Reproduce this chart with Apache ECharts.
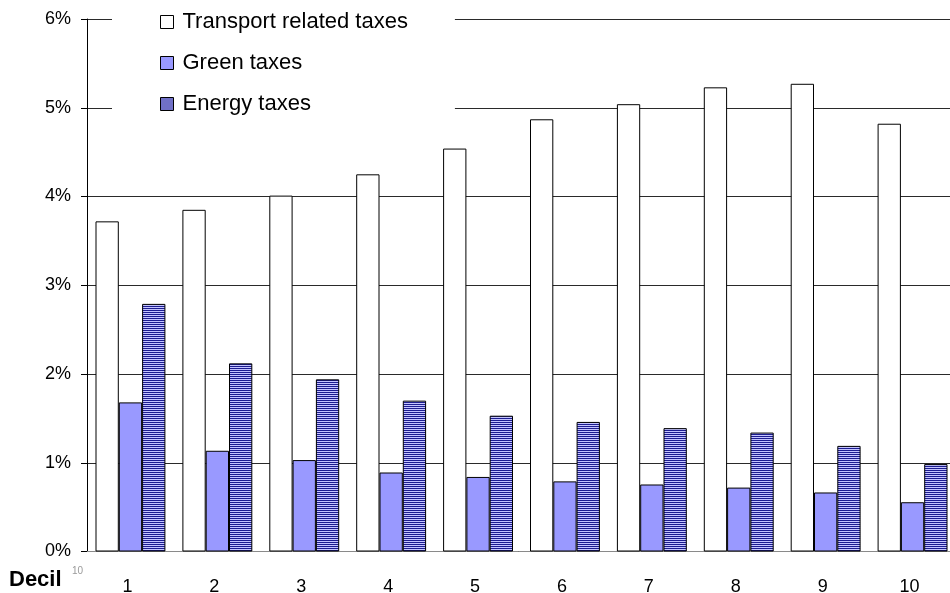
<!DOCTYPE html>
<html>
<head>
<meta charset="utf-8">
<script src="https://cdn.jsdelivr.net/npm/echarts@6/dist/echarts.min.js"></script>
<style>
  html, body { margin: 0; padding: 0; background: #fff; }
  #chart { width: 950px; height: 593px; }
</style>
</head>
<body>
<div id="chart"></div>
<script>
// Income deciles and tax shares (% of disposable income)
const deciles = ['1', '2', '3', '4', '5', '6', '7', '8', '9', '10'];
const transportTaxes = [3.72, 3.85, 4.01, 4.25, 4.54, 4.87, 5.04, 5.23, 5.27, 4.82];
const greenTaxes = [1.68, 1.135, 1.03, 0.89, 0.84, 0.79, 0.755, 0.72, 0.665, 0.555];
const energyTaxes = [2.79, 2.12, 1.94, 1.70, 1.53, 1.46, 1.39, 1.34, 1.19, 0.985];
const yTicks = [0, 1, 2, 3, 4, 5, 6];

// Horizontal hatch fill for the energy series
function stripePattern() {
  const c = document.createElement('canvas');
  c.width = 4; c.height = 2;
  const ctx = c.getContext('2d');
  ctx.fillStyle = '#c4c4ff';
  ctx.fillRect(0, 0, 4, 2);
  ctx.fillStyle = '#1c1c90';
  ctx.fillRect(0, 0, 4, 1);
  return c;
}

const chart = echarts.init(document.getElementById('chart'), null, { renderer: 'canvas' });
const font = '"Liberation Sans", Arial, sans-serif';
const barW = 23.3;

chart.setOption({
  animation: false,
  backgroundColor: '#ffffff',
  // plot runs a little past the right edge of the canvas
  grid: { left: 87, width: 869, top: 19, height: 532.5, containLabel: false, outerBoundsMode: 'none' },
  legend: {
    orient: 'vertical',
    left: 112,
    top: 2,
    padding: [9, 47, 9, 48],
    backgroundColor: '#ffffff',
    itemWidth: 13,
    itemHeight: 13,
    itemGap: 19,
    icon: 'rect',
    itemStyle: { borderColor: '#000', borderWidth: 1 },
    textStyle: { fontFamily: font, fontSize: 22, color: '#000', lineHeight: 22, padding: [0, 0, 0, 4] },
    data: ['Transport related taxes', 'Green taxes', 'Energy taxes']
  },
  xAxis: {
    type: 'category',
    data: deciles,
    axisLine: { show: true, lineStyle: { color: '#8a8a8a', width: 1 } },
    axisTick: { show: false },
    axisLabel: { fontFamily: font, fontSize: 18, color: '#000', margin: 27, padding: [0, 6, 0, 0] },
    splitLine: { show: false }
  },
  yAxis: {
    type: 'value',
    min: yTicks[0],
    max: yTicks[yTicks.length - 1],
    interval: 1,
    axisLine: { show: true, lineStyle: { color: '#000', width: 1 } },
    axisTick: { show: true, length: 6, lineStyle: { color: '#000' } },
    axisLabel: { fontFamily: font, fontSize: 18, color: '#000', margin: 16, formatter: '{value}%' },
    splitLine: { show: true, lineStyle: { color: '#2a2a2a', width: 1 } }
  },
  series: [
    {
      name: 'Transport related taxes',
      type: 'bar',
      data: transportTaxes,
      barWidth: barW,
      barGap: '0%',
      itemStyle: { color: '#ffffff', borderColor: '#000', borderWidth: 1 }
    },
    {
      name: 'Green taxes',
      type: 'bar',
      data: greenTaxes,
      barWidth: barW,
      barGap: '0%',
      itemStyle: { color: '#9999ff', borderColor: '#000', borderWidth: 1 }
    },
    {
      name: 'Energy taxes',
      type: 'bar',
      data: energyTaxes,
      barWidth: barW,
      barGap: '0%',
      itemStyle: { color: { image: stripePattern(), repeat: 'repeat' }, borderColor: '#000', borderWidth: 1 }
    }
  ],
  graphic: [
    {
      type: 'text',
      left: 9, top: 569,
      style: { text: 'Decil', fontFamily: font, fontSize: 22, fontWeight: 'bold', fill: '#000' }
    },
    {
      type: 'text',
      left: 72, top: 566,
      style: { text: '10', fontFamily: font, fontSize: 10, fill: '#9a9a9a' }
    }
  ]
});
</script>
</body>
</html>
